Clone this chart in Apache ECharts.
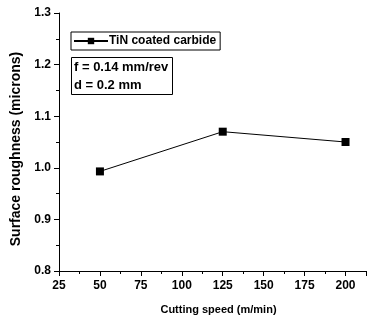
<!DOCTYPE html>
<html>
<head>
<meta charset="utf-8">
<script src="https://cdn.jsdelivr.net/npm/echarts@6/dist/echarts.min.js"></script>
<style>
html, body { margin: 0; padding: 0; background: #fff; }
#chart { width: 369px; height: 320px; }
</style>
</head>
<body>
<div id="chart"></div>
<script>
var speeds = [50, 125, 200];
var roughness = [0.993, 1.070, 1.050];
var seriesName = 'TiN coated carbide';
var noteText = 'f = 0.14 mm/rev\nd = 0.2 mm';

var font = 'Liberation Sans, Arial, sans-serif';
var chart = echarts.init(document.getElementById('chart'));

var data = [];
for (var i = 0; i < speeds.length; i++) {
    data.push([speeds[i], roughness[i]]);
}

var option = {
    animation: false,
    backgroundColor: '#fff',
    grid: { left: 59, right: 1, top: 13, bottom: 47 },
    title: {
        text: noteText,
        left: 71,
        top: 57,
        padding: [1, 4, 1, 3],
        borderColor: '#000',
        borderWidth: 1,
        textStyle: { fontFamily: font, fontSize: 13, fontWeight: 'bold', color: '#000', lineHeight: 18 }
    },
    legend: {
        left: 71,
        top: 32,
        padding: [3, 4, 3, 2],
        borderColor: '#000',
        borderWidth: 1,
        itemWidth: 34,
        itemHeight: 8,
        itemGap: 2,
        textStyle: { fontFamily: font, fontSize: 12, fontWeight: 'bold', color: '#000', padding: [0, 0, 0, -4] },
        data: [seriesName]
    },
    xAxis: {
        type: 'value',
        min: 25,
        max: 212.5,
        interval: 25,
        name: 'Cutting speed (m/min)',
        nameLocation: 'middle',
        nameGap: 33,
        nameTextStyle: { fontFamily: font, fontSize: 11, fontWeight: 'bold', color: '#000', padding: [0, 0, 0, 12] },
        axisLine: { lineStyle: { color: '#000', width: 1 } },
        axisTick: { inside: false, length: 5, lineStyle: { color: '#000' } },
        minorTick: { show: true, splitNumber: 2, length: 3, lineStyle: { color: '#000' } },
        splitLine: { show: false },
        axisLabel: {
            fontFamily: font, fontSize: 12, fontWeight: 'bold', color: '#000', margin: 9,
            formatter: function (v) { return v % 25 === 0 ? v : ''; }
        }
    },
    yAxis: {
        type: 'value',
        min: 0.8,
        max: 1.3,
        interval: 0.1,
        name: 'Surface roughness (microns)',
        nameLocation: 'middle',
        nameGap: 33,
        nameTextStyle: { fontFamily: font, fontSize: 14, fontWeight: 'bold', color: '#000', padding: [0, 14, 0, 0] },
        axisLine: { show: true, lineStyle: { color: '#000', width: 1 } },
        axisTick: { show: true, inside: false, length: 5, lineStyle: { color: '#000' } },
        minorTick: { show: true, splitNumber: 2, length: 3, lineStyle: { color: '#000' } },
        splitLine: { show: false },
        axisLabel: {
            fontFamily: font, fontSize: 12, fontWeight: 'bold', color: '#000', margin: 8,
            formatter: function (v) { return v.toFixed(1); }
        }
    },
    series: [{
        name: seriesName,
        type: 'line',
        data: data,
        symbol: 'rect',
        symbolSize: 8,
        itemStyle: { color: '#000' },
        lineStyle: { color: '#000', width: 1 }
    }]
};

chart.setOption(option);
</script>
</body>
</html>
